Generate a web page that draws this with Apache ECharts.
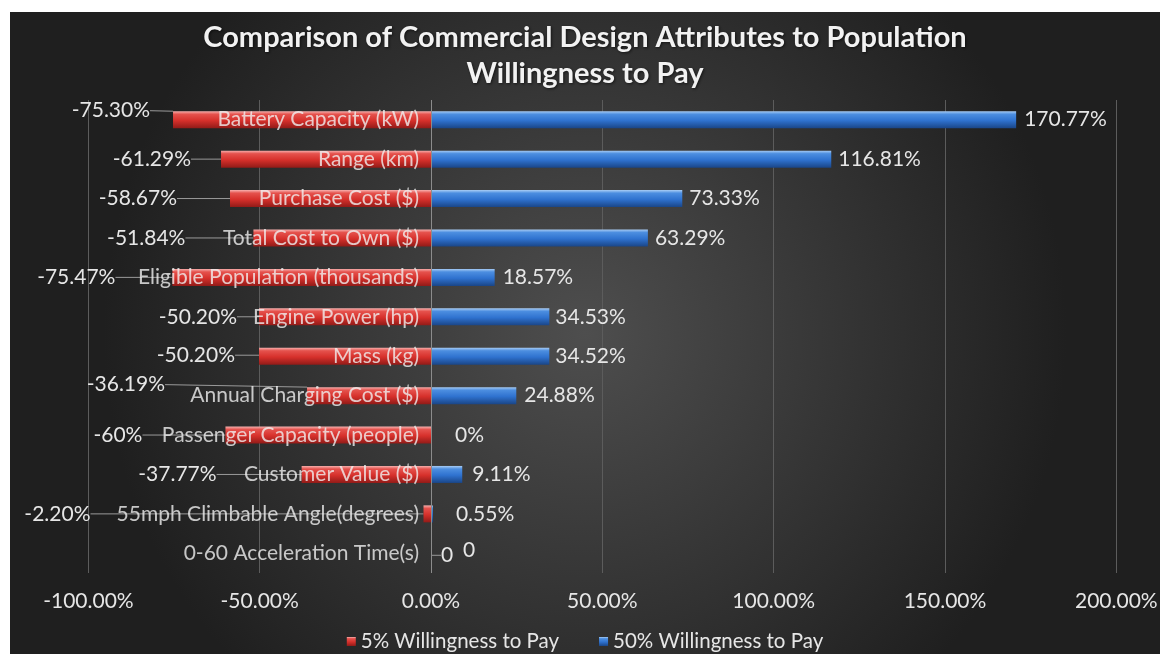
<!DOCTYPE html>
<html>
<head>
<meta charset="utf-8">
<script src="https://cdn.jsdelivr.net/npm/echarts@6/dist/echarts.min.js"></script>
<style>
  html, body { margin: 0; padding: 0; background: #ffffff; }
  #chart { position: absolute; left: 10px; top: 12px; width: 1150px; height: 642px; }
</style>
</head>
<body>
<div id="chart"></div>
<script>
// Design attributes, listed top to bottom
const attributes = [
  'Battery Capacity (kW)',
  'Range (km)',
  'Purchase Cost ($)',
  'Total Cost to Own ($)',
  'Eligible Population (thousands)',
  'Engine Power (hp)',
  'Mass (kg)',
  'Annual Charging Cost ($)',
  'Passenger Capacity (people)',
  'Customer Value ($)',
  '55mph Climbable Angle(degrees)',
  '0-60 Acceleration Time(s)'
];

// Percent change at 5% willingness to pay
const lowWtp = [-75.30, -61.29, -58.67, -51.84, -75.47, -50.20, -50.20, -36.19, -60, -37.77, -2.20, 0];
// Percent change at 50% willingness to pay
const highWtp = [170.77, 116.81, 73.33, 63.29, 18.57, 34.53, 34.52, 24.88, 0, 9.11, 0.55, 0];

// Text shown next to each bar
const lowWtpText = ['-75.30%', '-61.29%', '-58.67%', '-51.84%', '-75.47%', '-50.20%', '-50.20%', '-36.19%', '-60%', '-37.77%', '-2.20%', '0'];
const highWtpText = ['170.77%', '116.81%', '73.33%', '63.29%', '18.57%', '34.53%', '34.52%', '24.88%', '0%', '9.11%', '0.55%', '0'];

// Axis ticks
const axisMin = -100, axisMax = 200, axisStep = 50;

const seriesNames = ['5% Willingness to Pay', '50% Willingness to Pay'];

// Label placement relative to the bar end: [gap in px, vertical shift in px]
const lowLabelPlace = [[23, -9], [30, 0], [53, 0], [68, 0], [57, 0], [22, 0], [24, -1], [142, -11], [83, 0], [85, 0], [333, 0], [-10, 2]];
const highLabelPlace = [[8, 0], [7, 0], [7, 0], [7, 0], [8, 0], [6, 0], [6, 0], [8, 0], [24, 0], [10, 0], [23, 0], [32, -3]];

const FONT = 'Lato';
const LABEL_SIZE = 21;

function barFill(top, light, mid, dark) {
  return new echarts.graphic.LinearGradient(0, 0, 0, 1, [
    { offset: 0, color: top },
    { offset: 0.18, color: light },
    { offset: 0.55, color: mid },
    { offset: 1, color: dark }
  ]);
}

const redFill = barFill('#f7b0ae', '#e5524d', '#d6302b', '#921b18');
const blueFill = barFill('#a9cdf5', '#4c8ee0', '#2f72cf', '#1a4688');

const chart = echarts.init(document.getElementById('chart'));

chart.setOption({
  backgroundColor: new echarts.graphic.RadialGradient(0.5, 0.5, 0.75, [
    { offset: 0, color: '#4e4e4e' },
    { offset: 1, color: '#1f1f1f' }
  ]),
  animation: false,
  title: {
    text: 'Comparison of Commercial Design Attributes to Population\nWillingness to Pay',
    left: 'center',
    top: 3,
    textStyle: {
      fontFamily: FONT,
      fontSize: 29,
      fontWeight: 'bold',
      color: '#f2f2f2',
      lineHeight: 36,
      textShadowColor: 'rgba(0,0,0,0.6)',
      textShadowBlur: 3,
      textShadowOffsetX: 1,
      textShadowOffsetY: 1
    }
  },
  legend: {
    top: 614,
    left: 'center',
    itemGap: 40,
    itemWidth: 9,
    itemHeight: 9,
    icon: 'rect',
    textStyle: { fontFamily: FONT, fontSize: 20.5, color: '#e6e6e6' },
    data: seriesNames
  },
  grid: { left: 78.4, right: 43.7, top: 88, bottom: 81, containLabel: false, outerBoundsMode: 'none' },
  xAxis: {
    type: 'value',
    min: axisMin,
    max: axisMax,
    interval: axisStep,
    axisLine: { show: false },
    axisTick: { show: false },
    splitLine: { show: true, lineStyle: { color: '#5c5c5c', width: 1 } },
    axisLabel: {
      fontFamily: FONT,
      fontSize: LABEL_SIZE,
      color: '#e6e6e6',
      margin: 18,
      formatter: v => v.toFixed(2) + '%'
    }
  },
  yAxis: {
    type: 'category',
    inverse: true,
    data: attributes,
    axisLine: { show: false },
    axisTick: { show: false },
    axisLabel: { show: false }
  },
  series: [
    {
      name: seriesNames[0],
      type: 'bar',
      data: lowWtp,
      barWidth: 17,
      barGap: '-100%',
      itemStyle: { color: redFill },
      label: {
        show: true,
        position: 'left',
        fontFamily: FONT,
        fontSize: LABEL_SIZE,
        color: '#e6e6e6',
        formatter: p => lowWtpText[p.dataIndex]
      },
      labelLine: { show: true, lineStyle: { color: '#9a9a9a', width: 1 } },
      labelLayout: function (p) {
        const place = lowLabelPlace[p.dataIndex];
        const onRight = place[0] < 0;
        return {
          x: p.rect.x - place[0],
          y: p.rect.y + p.rect.height / 2 + place[1],
          align: onRight ? 'left' : 'right',
          verticalAlign: 'middle'
        };
      }
    },
    {
      name: seriesNames[1],
      type: 'bar',
      data: highWtp,
      barWidth: 17,
      itemStyle: { color: blueFill },
      label: {
        show: true,
        position: 'right',
        fontFamily: FONT,
        fontSize: LABEL_SIZE,
        color: '#e6e6e6',
        formatter: p => highWtpText[p.dataIndex]
      },
      labelLayout: function (p) {
        const place = highLabelPlace[p.dataIndex];
        return {
          x: p.rect.x + p.rect.width + place[0],
          y: p.rect.y + p.rect.height / 2 + place[1],
          align: 'left',
          verticalAlign: 'middle'
        };
      },
      // vertical axis line at 0%
      markLine: {
        silent: true,
        symbol: 'none',
        label: { show: false },
        lineStyle: { color: '#8c8c8c', type: 'solid', width: 1 },
        data: [{ xAxis: 0 }]
      }
    },
    {
      // category names, drawn beside the 0% line on top of the bars
      name: 'attribute names',
      type: 'scatter',
      data: attributes.map(a => [0, a]),
      symbolSize: 0,
      silent: true,
      z: 10,
      legendHoverLink: false,
      label: {
        show: true,
        position: 'left',
        distance: 12,
        fontFamily: FONT,
        fontSize: LABEL_SIZE,
        color: '#f0f0f0',
        formatter: p => p.value[1]
      }
    }
  ]
});
</script>
</body>
</html>
